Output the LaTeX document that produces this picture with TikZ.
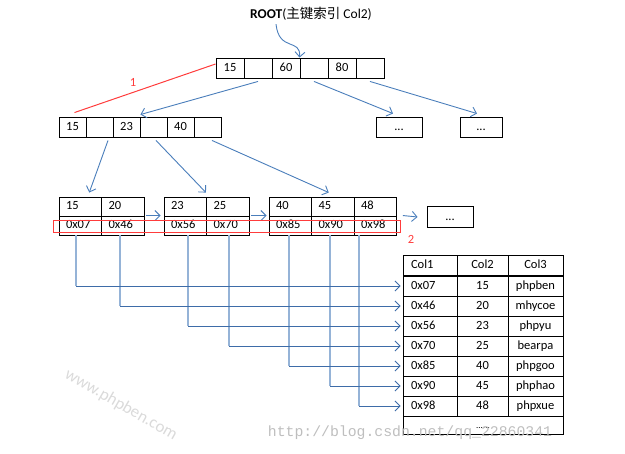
\documentclass[tikz,border=0pt]{standalone}
\usepackage{fontspec}
\setmainfont{Carlito}
\newfontfamily\cjkfont{Noto Sans CJK SC}
\newfontfamily\wmfont{Liberation Mono}
\usepackage{xcolor}
\usepackage{tikz}
\usetikzlibrary{arrows.meta,positioning}
\definecolor{linkblue}{RGB}{74,126,187}
\definecolor{ptrblue}{RGB}{62,108,168}
\definecolor{ptrlight}{RGB}{149,179,215}
\definecolor{markred}{RGB}{255,60,60}
\definecolor{wmlight}{RGB}{218,218,218}
\definecolor{wmgray}{RGB}{190,190,190}
\newcommand\cellsize{\fontsize{12.5}{14}\selectfont}
\tikzset{
  cell/.style={draw,line width=0.9,minimum width=28,minimum height=20,inner sep=0,
    text height=9,text depth=2.5,font=\cellsize},
  leafcell/.style={cell,minimum width=0,text width=28.5,inner xsep=7,minimum height=19,align=left},
  tcolA/.style={cell,minimum width=0,text width=38,inner xsep=8,align=left},
  tcolB/.style={cell,minimum width=51},
  tcolC/.style={cell,minimum width=55},
  dotbox/.style={cell,minimum width=46},
  arr/.style={linkblue,line width=0.9,-{Straight Barb[length=5pt,width=10pt]}},
  ptr/.style={arr,ptrblue,shorten >=2pt},
  ptrv/.style={ptrlight,line width=2},
  redln/.style={markred,line width=1},
  redlab/.style={markred,font=\cellsize},
}

\begin{document}
\begin{tikzpicture}[x=1pt,y=-1pt]
  \useasboundingbox (0,0) rectangle (625,454);
  % root and second level
  \node[font=\fontsize{13.5}{15}\selectfont] (title) at (311,14)
    {\textbf{ROOT}({\cjkfont 主键索引} Col2)};
  \foreach \i/\t in {1/15,2/{},3/60,4/{},5/80,6/{}}{%
    \node[cell] (root\i) at ({202+28*\i},68) {\t};}
  \foreach \i/\t in {1/15,2/{},3/23,4/{},5/40,6/{}}{%
    \node[cell,minimum width=27] (lv\i) at ({45.5+27*\i},127) {\t};}
  \node[dotbox] (dots1) at (399,127) {...};
  \node[dotbox,minimum width=42] (dots2) at (481,127) {...};
  \draw[arr] ([xshift=-35]title.south) .. controls (279,52) and (301,38) .. (root4.north west);
  \draw[arr] ([yshift=-3]root2.south) -- ([yshift=2]lv3.north east);
  \draw[arr] ([yshift=-3]root4.south) -- ([xshift=-6,yshift=3]dots1.north);
  \draw[arr] ([yshift=-3]root6.south) -- ([xshift=-4,yshift=3]dots2.north);
  % red mark 1
  \draw[redln] ([yshift=4]root1.west) -- ([xshift=2,yshift=4]lv1.north);
  \node[redlab] (lab1) at (133,82) {1};
  % leaf level: keys over addresses
  \foreach \x/\k/\a in {80.25/15/07,122.75/20/46,185.25/23/56,227.75/25/70,
                        290.25/40/85,332.75/45/90,375.25/48/98}{%
    \node[leafcell] (k\k) at (\x,206.5) {\k};
    \node[leafcell] (a\a) at (\x,225.5) {0x\a};}
  \node[dotbox,minimum height=21] (dots3) at (450,217) {...};
  \draw[arr] ([xshift=8.5,yshift=-3]lv2.south) -- ([xshift=9,yshift=4]k15.north);
  \draw[arr] ([xshift=2.5,yshift=-3]lv4.south) -- ([xshift=-1,yshift=4]k23.north east);
  \draw[arr] ([xshift=4.5,yshift=-3]lv6.south) -- ([xshift=-4,yshift=4]k45.north);
  \draw[arr] ([xshift=2]a46.north east) -- ([xshift=-3]a56.north west);
  \draw[arr] ([xshift=2]a70.north east) -- ([xshift=-2]a85.north west);
  \draw[arr] ([xshift=6]a98.north east) -- ([xshift=-9]dots3.west);
  % red mark 2
  \draw[redln] (53,221) rectangle (400,233);
  \node[redlab] (lab2) at (411,239) {2};
  % data table
  \node[tcolA] (th1) at (430,265.5) {Col1};
  \node[tcolB] (th2) at (482.5,265.5) {Col2};
  \node[tcolC] (th3) at (535.5,265.5) {Col3};
  \foreach \a/\k/\v [count=\i] in {07/15/phpben,46/20/mhycoe,56/23/phpyu,70/25/bearpa,
                                   85/40/phpgoo,90/45/phphao,98/48/phpxue}{%
    \node[tcolA] (t\i) at (430,{266+20*\i}) {0x\a};
    \node[tcolB] (u\i) at (482.5,{266+20*\i}) {\k};
    \node[tcolC] (v\i) at (535.5,{266+20*\i}) {\v};}
  \node[cell,minimum width=160,minimum height=18] (tmore) at (483,425)
    {\fontsize{9}{10}\selectfont......};
  % row pointers
  \foreach \a/\dx [count=\i] in {07/-4,46/-3,56/3,70/1,85/-1,90/-3,98/-16}{%
    \draw[ptrv] ([xshift=\dx]a\a.south) -- ([xshift=\dx]a\a.south |- t\i.west);}
  \foreach \a/\dx [count=\i] in {07/-4,46/-3,56/3,70/1,85/-1,90/-3,98/-16}{%
    \draw[ptr] ([xshift=\dx]a\a.south |- t\i.west) -- (t\i.west);}
  % watermarks
  \node[wmlight,rotate=-30,font=\fontsize{17}{18}\selectfont] (wm1) at (121,405) {www.phpben.com};
  \node[wmgray,font=\wmfont\fontsize{14.8}{16}\selectfont] (wm2) at (410,433) {http://blog.csdn.net/qq\_22860341};
\end{tikzpicture}
\end{document}
